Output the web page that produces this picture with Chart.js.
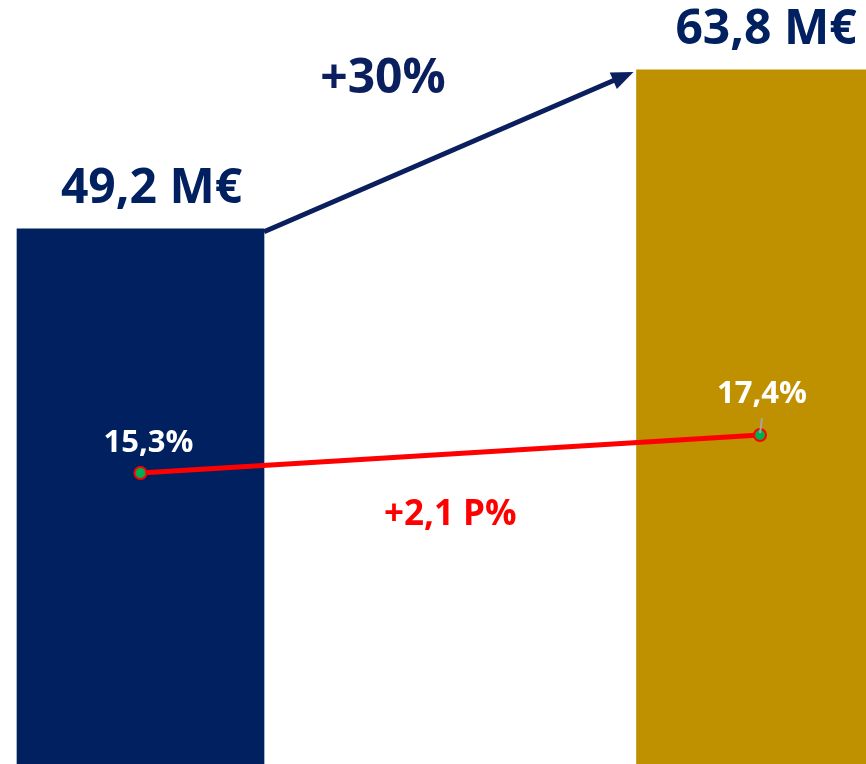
<!DOCTYPE html>
<html>
<head>
<meta charset="utf-8">
<script src="https://cdn.jsdelivr.net/npm/chart.js@4"></script>
<style>
  html, body { margin: 0; padding: 0; background: #fff; }
  canvas { display: block; }
</style>
</head>
<body>
<canvas id="chart" width="866" height="764"></canvas>
<script>
// data
var categories = ['Vorjahr', 'Berichtsjahr'];
var revenue = [49.2, 63.8];       // M€
var margin = [15.3, 17.4];        // %
var barColors = ['#002060', '#bf9000'];

var NAVY = '#0b1f5e';
var fmt = function (v) { return v.toFixed(1).replace('.', ','); };

// labels, arrow and leader line
var annotations = {
    id: 'annotations',
    afterDatasetsDraw(chart) {
        var ctx = chart.ctx;
        var x = chart.scales.x, y = chart.scales.y, y2 = chart.scales.y2;
        var half = 247 / 2;
        ctx.save();
        ctx.textAlign = 'center';
        ctx.textBaseline = 'alphabetic';

        // revenue labels above bars
        var revShift = [11, 6];
        ctx.font = 'bold 48px "Open Sans"';
        ctx.fillStyle = '#002060';
        revenue.forEach(function (v, i) {
            ctx.fillText(fmt(v) + ' M€', x.getPixelForValue(i) + revShift[i], y.getPixelForValue(v) - 26);
        });

        // growth arrow
        var x0 = x.getPixelForValue(0) + half, y0 = y.getPixelForValue(revenue[0]) + 3;
        var x1 = x.getPixelForValue(1) - half - 3, y1 = y.getPixelForValue(revenue[1]) + 2;
        var ang = Math.atan2(y1 - y0, x1 - x0);
        ctx.strokeStyle = NAVY;
        ctx.fillStyle = NAVY;
        ctx.lineWidth = 5;
        ctx.beginPath();
        ctx.moveTo(x0, y0);
        ctx.lineTo(x1 - 16 * Math.cos(ang), y1 - 16 * Math.sin(ang));
        ctx.stroke();
        ctx.beginPath();
        ctx.moveTo(x1, y1);
        ctx.lineTo(x1 - 22 * Math.cos(ang) + 9 * Math.sin(ang), y1 - 22 * Math.sin(ang) - 9 * Math.cos(ang));
        ctx.lineTo(x1 - 22 * Math.cos(ang) - 9 * Math.sin(ang), y1 - 22 * Math.sin(ang) + 9 * Math.cos(ang));
        ctx.closePath();
        ctx.fill();

        var growth = Math.round((revenue[1] / revenue[0] - 1) * 100);
        ctx.font = 'bold 48px "Open Sans"';
        ctx.fillText('+' + growth + '%', 383, 93);

        // margin labels
        var p0 = { x: x.getPixelForValue(0), y: y2.getPixelForValue(margin[0]) };
        var p1 = { x: x.getPixelForValue(1), y: y2.getPixelForValue(margin[1]) };
        ctx.strokeStyle = '#a6a6a6';
        ctx.lineWidth = 2;
        ctx.beginPath();
        ctx.moveTo(p1.x + 2, p1.y - 17);
        ctx.lineTo(p1.x, p1.y - 2);
        ctx.stroke();

        ctx.font = 'bold 31px "Open Sans"';
        ctx.fillStyle = '#ffffff';
        ctx.fillText(fmt(margin[0]) + '%', p0.x + 8, p0.y - 21);
        ctx.fillText(fmt(margin[1]) + '%', p1.x + 2, p1.y - 32);

        // margin change
        ctx.font = 'bold 35px "Open Sans"';
        ctx.fillStyle = '#ff0000';
        ctx.fillText('+' + fmt(margin[1] - margin[0]) + ' P%', (p0.x + p1.x) / 2, (p0.y + p1.y) / 2 + 71);
        ctx.restore();
    }
};

var ctx = document.getElementById('chart').getContext('2d');
var myChart = new Chart(ctx, {
    type: 'bar',
    data: {
        datasets: [{
            type: 'line',
            label: 'Marge',
            data: margin.map(function (v, i) { return { x: i, y: v }; }),
            yAxisID: 'y2',
            borderColor: '#ff0000',
            borderWidth: 5,
            pointRadius: 6,
            pointBorderWidth: 2,
            pointBackgroundColor: '#00b050',
            pointBorderColor: '#ff0000',
            order: 0
        }, {
            label: 'Umsatz',
            data: revenue.map(function (v, i) { return { x: i, y: v }; }),
            backgroundColor: barColors,
            barThickness: 247,
            yAxisID: 'y',
            order: 1
        }]
    },
    options: {
        responsive: false,
        animation: false,
        layout: { padding: 0, autoPadding: false },
        plugins: { legend: { display: false }, tooltip: { enabled: false } },
        scales: {
            x: { type: 'linear', display: false, offset: false, min: -0.2268, max: 1.1711 },
            y: { display: false, min: 0, max: 70.23 },
            y2: { display: false, min: -0.78, max: 41.44 }
        }
    },
    plugins: [annotations]
});
</script>
</body>
</html>
